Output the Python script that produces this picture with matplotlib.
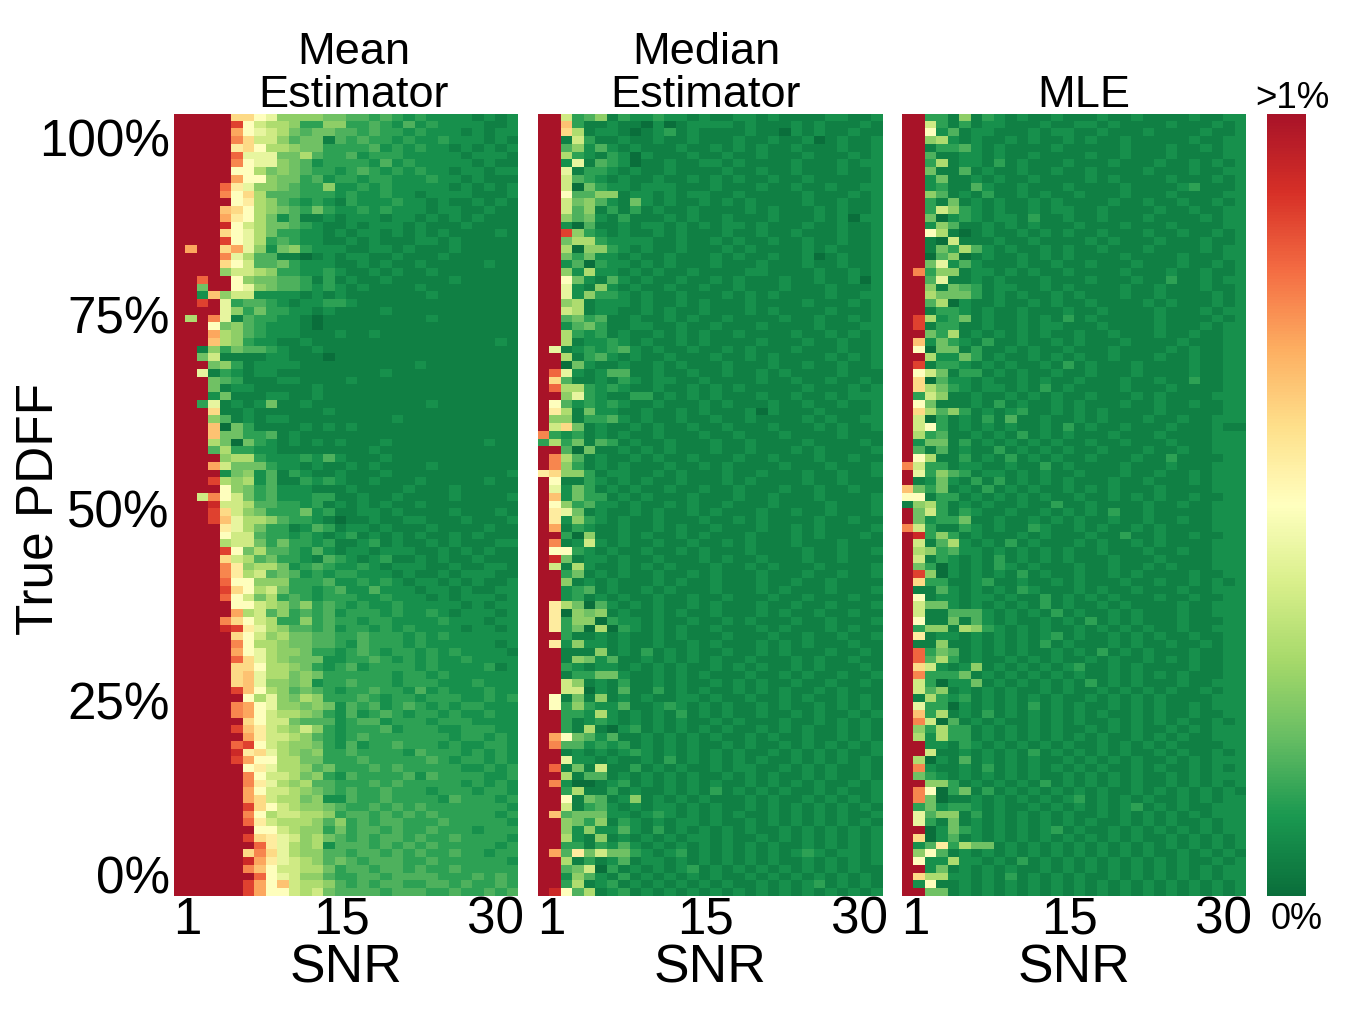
import numpy as np
import matplotlib
matplotlib.use("Agg")
import matplotlib.pyplot as plt
from matplotlib.cm import ScalarMappable
from matplotlib.colors import LinearSegmentedColormap, Normalize

plt.rcParams['font.family'] = ['Liberation Sans', 'DejaVu Sans']

titles = ["Mean\nEstimator", "Median\nEstimator", "MLE"]
snr_ticklabels = ["1", "15", "30"]
pdff_ticklabels = ["100%", "75%", "50%", "25%", "0%"]

# Levels, one character per cell.
# First string = top row (PDFF 100 %), first character = SNR 1.
level_chars = "0123456789abcdefghij"
level_values = [0.0, 0.045, 0.085, 0.125, 0.17, 0.215, 0.265, 0.32, 0.38, 0.44,
                0.5, 0.56, 0.61, 0.66, 0.71, 0.76, 0.81, 0.87, 0.92, 1.0]

mean_rows = [
"jjjjjcca9666655443432322221212","jjjjjha87763366334324232222112","jjjjjea98754554434332322212122",
"jjjjjfc88645514343323223222121","jjjjjbca7765533334232322121212","jjjjjg999557433423332222212221",
"jjjjjfa99654233332423222221211","jjjjjaa75654332343232322122122","jjjjjeaa6553423323322232212111",
"jjjjgb966543362232322222121212","jjjjfac74443332322322122221112","jjjjjab76432321322232212112121",
"jjjjdca76543532232322212211211","jjjjeba75241121222122121212111","jjjjia875543211212221211121111",
"jjjjca975332212122121212111121","jjjjha973432211212111221211111","jejjce962563222112212111211111",
"jjjjf9744110121221121112111111","jjjjca844532221121211211111211","jjjj68876332232112121121111111",
"jjgjja655443131211211111211111","jj5jja965443232121111211111111","jj2d68822221212111111121111111",
"jjhj93443212233211111111111111","jjjj96353322121111211111111111","j7jf91433221011111111121111111",
"jjja56432221011111111111111111","jjje76432221112112111111111111","jjjd76322112111111111111111121",
"jj1635443211211111111111111111","jj5811112211101111111111111111","jjj563122221111111111211111111",
"jj9132122111111111211111111111","jjj543111221111211111111111111","jjj512211111211111111111111111",
"jjj251112211211111111111111111","jj3912125112111111111121111111","jjjc11211111121111111111111111",
"jjj641212211111111121111111111","jjjd05311112121211111111111111","jjjd55334121111111111111111111",
"jjj750532121212111211111111211","jjj473322111111112111111111111","jjjj67732223242111211111111111",
"jjje85553221211212111121111111","jjjj25624132112111211111111112","jjjh76724113232112111211111211",
"jjjja6534222111211112111211111","jj8fa8534222331121121111211112","jjji88744332312121211211111111",
"jjjhc8653335231122121111211121","jjjhd9776433210112112211121112","jjjjb9753312431221211121111211",
"jjjja8843323212312121211212111","jjjj78853533231123121121211122","jjjjha574432421221222112121211",
"jjjjc8745332143212311212112111","jjjjfb677523432232122211211221","jjjjfb784542323322212112122211",
"jjjjgaa66633342232321221212112","jjjjhca78533234224222122121122","jjjjga857343233322322212122212",
"jjjjjaa87646343232232222212122","jjjjje784634342333232232122212","jjjjfca87336343323322223222122",
"jjjjihb97644342332323222212212","jjjjjca86755443343332323222222","jjjjjfa77655443243332322222212",
"jjjjjea97665332343233232322221","jjjjjgc97655522334323232232222","jjjjjcca7765323423333232222312",
"jjjjjcd97756533333323323222222","jjjjjcd96656233433323332223222","jjjjjhda7645432334332423222322",
"jjjjjja79657633343233233322323","jjjjjfea9665652434234323233222","jjjjjfea8776532423432332322322",
"jjjjjjca8854442344233323332222","jjjjjhdb8768632333423332233322","jjjjjjeb8876432343333333233232",
"jjjjjgha8766532423343332322332","jjjjjibc9765633433332433323232","jjjjjheaa775533343333343233232",
"jjjjjjab9776453334343333322323","jjjjjjfa8875632433334243333223","jjjjjjfb9767443334343333323232",
"jjjjjjea8876543433433323332332","jjjjjjec8775622433433332433323","jjjjjjhca876654334343433333332",
"jjjjjjfa7887763443434343333323","jjjjjjgb8777646343443334333332","jjjjjjjaa876635344343343332333",
"jjjjjjhcb986754343443433433332","jjjjjjjgb976724443434343333323","jjjjjjcfc976644344343433433233",
"jjjjjjieb987645434443343333332","jjjjjjfda887753443443433433333","jjjjjjjga986643344344443334343",
"jjjjjjhead87764343443344343343","jjjjjjheaa87854444344433433434",
]

median_rows = [
"jj834613223221211221211112211","jjd311211020122221211121211121","jjc712210123121111211021211211",
"jj183112112112111211211201211","jj462421211121121212112111211","jj732132021112112112111211121",
"jj291432011211221211112111212","jj913321211211112112112111211","jj843212112112121211211211111",
"jj805322122211121112112112112","jja446612212122112111112111212","jj856421521211212121111211211",
"jj846131312112111121211121211","jj645213111212112111211121202","jj204112122121212212111211211",
"jjh63212112121112112112111211","jj577322221121121211211211211","jj706632121121112121111212111",
"jj535221211211121211211201211","jj240322121211121112111211211","jj627221212112111122111121121",
"jja52142121121121211121121120","jj921621211211211211121112111","jj926332121121112121211112112",
"jj671222121121211121111211121","jj871221121211211121211112111","jj453411211212112111121121121",
"jj245311221121121112111121112","jj732312112121211211112112121","jj712232121121211112111211211",
"j9123234212112112121112111211","jj713421211211121121211112121","jj052112112121112111211211211",
"jg9212441121121121121211112111","jc4112132122112111121121121121","jg7732321121121212111112111212",
"jj69321133121212111211211212","ja423232112111212111211211211","jb715221121121211120211121111",
"j6613342121121121121111212112","j8c512112121121121112111212112","f323121211211121121112111121111",
"3735143121121112112111121111211","jj405112121211121121112121111211","jf741211212112111211211121121111",
"jf631212111211212111121112111211","bc663122112121112112111211211212","ja113212121121112121111211211121",
"j925312121121121121112112112112","jd253312121112111211211121111211","ja634221211212112111211112111211",
"jb951211212112121112112112111211","jb263212112111211212111121121111","je132112112121121112112121111212",
"jj306112121121211121112121112111","jf128212112112112121112111211112","jaa32121121121211121111211211211",
"ji512212112111212112111211211121","j8172112121211121121211121111212","jj351212112112121112111211211211",
"jj612121112121121112112112111121","jj234121121211121112121112111211","jj231212112112112111211211121121",
"jb750421212112121112112112111212","jb065612112121121112121121121121","jb366032212112112121112112111211",
"jb350703212121121112121112121111","jj311212112121112111211211211211","jb262212112112121112121211121111",
"jj111612131212112112121112112121","jj165241121212121121112121121121","jj321221212121121212112121112121",
"jj133552112121211121121211211212","jj861213112121121212112112112121","jj880214113121211212121121211121",
"ja151612121122121121121211212121","ja363224112321212112121121212112","jj332721212131212112112121121211",
"jj312321212121121211121121212112","jj317102312121212112121211212111","jea542411212121211212112112121",
"jf442323121212112121121212121211","jj121212321212121211212121211212","jj922121121312121212112121212112",
"jg151811312121121221121212112121","jj714412121212112121211212112121","jf200123121212121121212121121212",
"jj371131211212131212121121211212","jja154126121212111212112121212112","jj813421212212121121212121212112",
"jd455522123212121211212121211211","jj653613212122121121212121212112","jj626224213121212121121212121212",
"jj721612121212212112121212121211","jj331324212121212121211212121212","je4b58553212312121212123212212",
"jj713124122121212121211212121212","jj458031212123121212121212121121","jj264213121212121121212121212121",
"jj371231212121212112121231212121","jia471231212121212121212121212",
]

mle_rows = [
"jj331613212112111211211112112","jj831312211121122121111211121","jja241221112122112111211112112",
"jj672121121211212112111112112","jj133421211112111112111211212","jj411221211211112112111211112",
"jj371221312111211121112112121","jj511412112112112111121112112","jj251121211211112121111211121",
"jj231142112111211112111123111","jj641213112121121112111211112","jj315121211212111121121121121",
"jj386321211212211211112112112","jj502321221311211211121111212","jj264112121211121112111211112",
"jja710121121212112111211211212","jj108111211211112121112111211","jj153742121121211211121111212",
"jj046012112121211112111121112","jj592421112112112111211121121","jf366122121211211112111211211",
"jj491121211121112111211311212","jj615431221121211112112111211","jj755531212112121112112111121",
"jj470211211212112111121211121","jj133212112111211211112111212","jh723512112121312111112111121",
"jh133112112122111211112111212","jj537121212121121121112112112","jd253213112112121112111121112",
"ja055131121211211121111212112","jj722531211212121121112112112","jh133212121121312111211112112",
"ja851331212112112111211112112","jc042212112121121112112113112","jc753212212131211112111211112",
"j386112112121211211121211112","ja511121312112121112112112112","jc746312123112121211112111112",
"j803121314112112121112112112","j8a312121211213121121112111211","j734112121312121112111211112",
"j255131212121211211211121112","j414121131212121121112112112","ja711312131212112111211311112",
"f833122112113121111211121112","j936431221212112111211211212","j125213131212121112112111212",
"d535121312121121212111211112","aa133121212121121121212112112","1673121211211311211112112112",
"j583132112112121213112111112","j523351121121212112112112112","f831132121132112121121211112",
"ji363121112121112113112112112","j814721213121112121121211112","j763422121212121121112112112",
"j813212131212121112111211112","j530212132121112112112121112","jh602121213121121121211112112",
"jc331123112112121112112112121","j114212121321112121121112112","ja122122121131212121112112112",
"j855212121213121121211112112","j811444212121312112121112112","ja115142121121213121211121112",
"j366176321212112121212112112","jb122121212123121121212112112","j116112121213121112121121121",
"jg354121212112121312121112112","jg473121121212112121121212112","jc821261212121231121211112112",
"jf333512121212121121212121112","j830225121212121312121112112","j846121212112121121212121121",
"j173231212121211212121211112","j933021212131212112121211212","jd371213121212121211212112112",
"jf804121211212121121212121121","j637331212121211212121121212","j727331212121212121121212112",
"jj221321212121211212121211112","jj811212121312121212112121121","j702141212121121212121121212",
"jf211213121212121211212112121","j532121212121121212121121212","jj663121212131212121211212121",
"jfa035131212121212112121212121","jf501121212121231212121121212","j352332121121212121231212112",
"j946613121212121121212121212","j931512121212121211212121121","jj025321212123121121212121212",
"jc024121212121212121211212121","j24b37551212121212121212121212","j6a412121212121212121211212121",
"ja227221213121212121212121121","jj251212121121212121212121212","jc772212131212121121212121212",
"j2a112121212121212121212121212","jj551212121212121212121212121",
]

N_COLS = 30
def parse(rows):
    return np.array([[level_values[level_chars.index(c)] for c in r[:N_COLS].ljust(N_COLS, "2")]
                     for r in rows])

panels = [parse(mean_rows), parse(median_rows), parse(mle_rows)]

cmap = LinearSegmentedColormap.from_list("ref", [
    "#0a6e3b", "#1a9850", "#66bd63", "#a6d96a", "#d9ef8b", "#ffffbf",
    "#fee08b", "#fdae61", "#f46d43", "#d73027", "#a81328"])

W, H = 1355, 1009
fig = plt.figure(figsize=(W / 100, H / 100), dpi=100, facecolor="white")
def box(x0, x1, y0=114, y1=896):
    return [x0 / W, 1 - y1 / H, (x1 - x0) / W, (y1 - y0) / H]

lefts = [174, 538, 902]
title_x = [0.523, 0.488, 0.529]
for i, (m, left, t) in enumerate(zip(panels, lefts, titles)):
    ax = fig.add_axes(box(left, left + 344))
    ax.imshow(m, cmap=cmap, vmin=0, vmax=1, aspect="auto",
              interpolation="nearest", extent=[0.5, 30.5, -0.5, 100.5], origin="upper")
    for s in ax.spines.values():
        s.set_visible(False)
    ax.set_xticks([1.63, 15.1, 28.5], snr_ticklabels, fontsize=36.8)
    ax.tick_params(axis="x", length=0, pad=0)
    ax.set_xlabel("SNR", fontsize=38.4, labelpad=-1)
    if i == 0:
        ax.set_yticks([97.5, 74.6, 49.6, 24.8, 2.3], pdff_ticklabels, fontsize=36.8)
        ax.tick_params(axis="y", length=0, pad=3)
        ax.set_ylabel("True PDFF", fontsize=37, labelpad=-18, y=0.495)
    else:
        ax.set_yticks([])
    ax.text(title_x[i], 0.997, t, transform=ax.transAxes, ha="center", va="bottom",
            fontsize=32.5, linespacing=1.08)

cax = fig.add_axes(box(1267, 1306))
cb = fig.colorbar(ScalarMappable(Normalize(0, 1), cmap), cax=cax)
cb.outline.set_visible(False)
cb.set_ticks([])
cax.text(0.65, 0.997, ">1%", transform=cax.transAxes, ha="center", va="bottom", fontsize=26.5)
cax.text(0.75, -0.008, "0%", transform=cax.transAxes, ha="center", va="top", fontsize=26)

fig.savefig("out.png", dpi=100, facecolor="white")
